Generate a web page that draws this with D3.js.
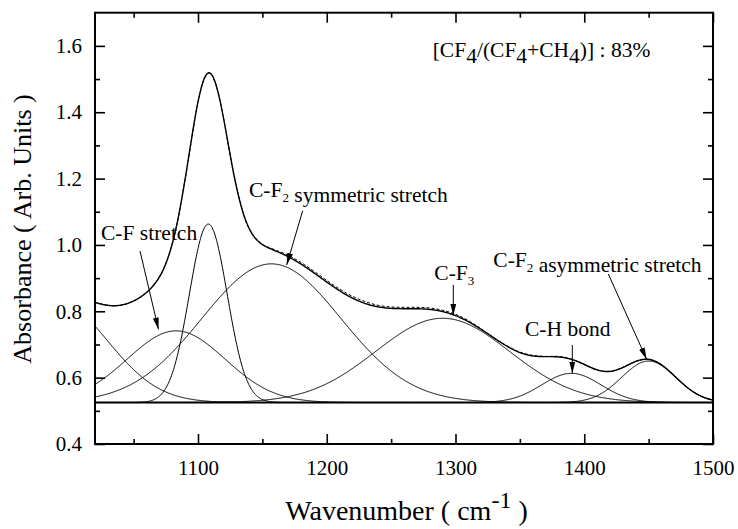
<!DOCTYPE html>
<html><head><meta charset="utf-8">
<script src="https://cdn.jsdelivr.net/npm/d3@7"></script>
<style>
body{margin:0;background:#fff}
svg{display:block}
</style>
</head><body>
<svg id="c" width="738" height="529"></svg>
<script>
// Fitted Gaussian components
const peakNames   = ["low wing", "C-F stretch", "narrow", "C-F2 symmetric stretch", "C-F3", "C-H bond", "C-F2 asymmetric stretch"];
const peakCenters = [990, 1083, 1108, 1157, 1290, 1390, 1450];
const peakHeights = [0.305, 0.216, 0.538, 0.418, 0.254, 0.088, 0.125];
const peakWidths  = [40, 38, 14.7, 54, 52, 23, 21];
const baseline = 0.525;

// Measured spectrum (dashed)
const measWavenumber = [1020,1030,1040,1050,1060,1070,1080,1090,1100,1105,1108,1110,1112,1115,1120,1130,1140,1150,1160,1170,1180,1190,1200,1210,1220,1230,1240,1250,1260,1270,1280,1290,1300,1310,1320,1330,1340,1350,1360,1370,1380,1390,1400,1410,1420,1430,1440,1450,1460,1470,1480,1490,1500];
const measAbsorbance = [0.828,0.818,0.818,0.831,0.857,0.903,1.003,1.198,1.430,1.502,1.518,1.515,1.502,1.468,1.378,1.172,1.047,1.002,0.985,0.969,0.947,0.921,0.893,0.867,0.845,0.829,0.818,0.813,0.812,0.812,0.810,0.803,0.791,0.772,0.747,0.720,0.696,0.677,0.667,0.664,0.664,0.656,0.641,0.623,0.619,0.631,0.649,0.655,0.639,0.606,0.571,0.545,0.532];

const xTicks = [1100, 1200, 1300, 1400, 1500];
const xMinorTicks = [1050, 1150, 1250, 1350, 1450];
const yTicks = [0.4, 0.6, 0.8, 1.0, 1.2, 1.4, 1.6];
const yMinorTicks = [0.5, 0.7, 0.9, 1.1, 1.3, 1.5];

const FONT = '"Liberation Serif", serif';
const L = 95, R = 713, T = 12.7, B = 444;
const svg = d3.select("#c");
const x = d3.scaleLinear().domain([1020, 1500]).range([L, R]);
const y = d3.scaleLinear().domain([0.4, 1.7]).range([B, T]);

const grid = d3.range(1020, 1500.01, 0.5);
function comp(i, w){ return baseline + peakHeights[i]*Math.exp(-Math.pow(w-peakCenters[i],2)/(2*peakWidths[i]*peakWidths[i])); }
function fit(w){ let s = baseline; for(let i=0;i<peakCenters.length;i++) s += comp(i,w)-baseline; return s; }

const defs = svg.append("defs");
defs.append("clipPath").attr("id","clip").append("rect").attr("x",L).attr("y",T).attr("width",R-L).attr("height",B-T);
defs.append("marker").attr("id","arr").attr("viewBox","0 0 12 6").attr("refX",12).attr("refY",3)
  .attr("markerWidth",12).attr("markerHeight",6).attr("markerUnits","userSpaceOnUse").attr("orient","auto")
  .append("path").attr("d","M0,0 L12,3 L0,6 Z").attr("fill","#000");

const line = d3.line().x(d=>x(d[0])).y(d=>y(d[1]));
const g = svg.append("g").attr("clip-path","url(#clip)");
peakCenters.forEach((c,i)=>{
  g.append("path").attr("d", line(grid.map(w=>[w,comp(i,w)]))).attr("fill","none").attr("stroke","#000").attr("stroke-width",1);
});
g.append("path").attr("d", line(grid.map(w=>[w,fit(w)]))).attr("fill","none").attr("stroke","#000").attr("stroke-width",1.4);
g.append("path").attr("d", d3.line().x(d=>x(d[0])).y(d=>y(d[1])).curve(d3.curveCatmullRom)(measWavenumber.map((w,i)=>[w,measAbsorbance[i]])))
  .attr("fill","none").attr("stroke","#000").attr("stroke-width",1).attr("stroke-dasharray","3,2");
g.append("line").attr("x1",x(1020)).attr("x2",x(1500)).attr("y1",y(baseline)).attr("y2",y(baseline)).attr("stroke","#000").attr("stroke-width",2);

// Axes
function styleAxis(sel){ sel.attr("font-family",null); sel.select(".domain").remove();
  sel.selectAll(".tick line").attr("stroke","#000").attr("stroke-width",1.6);
  sel.selectAll("text").style("font-family",FONT).attr("font-size",21).attr("fill","#000"); }
svg.append("g").attr("transform",`translate(0,${B})`).call(d3.axisBottom(x).tickValues(xTicks).tickSize(-10).tickPadding(16).tickFormat(d3.format("d"))).call(styleAxis);
svg.append("g").attr("transform",`translate(0,${B})`).call(d3.axisBottom(x).tickValues(xMinorTicks).tickSize(-5).tickFormat("")).call(styleAxis);
svg.append("g").attr("transform",`translate(0,${T})`).call(d3.axisTop(x).tickValues(xTicks).tickSize(-10).tickFormat("")).call(styleAxis);
svg.append("g").attr("transform",`translate(0,${T})`).call(d3.axisTop(x).tickValues(xMinorTicks).tickSize(-5).tickFormat("")).call(styleAxis);
svg.append("g").attr("transform",`translate(${L},0)`).call(d3.axisLeft(y).tickValues(yTicks).tickSize(-10).tickPadding(13).tickFormat(d3.format(".1f"))).call(styleAxis);
svg.append("g").attr("transform",`translate(${L},0)`).call(d3.axisLeft(y).tickValues(yMinorTicks).tickSize(-5).tickFormat("")).call(styleAxis);
svg.append("g").attr("transform",`translate(${R},0)`).call(d3.axisRight(y).tickValues(yTicks).tickSize(-10).tickFormat("")).call(styleAxis);
svg.append("g").attr("transform",`translate(${R},0)`).call(d3.axisRight(y).tickValues(yMinorTicks).tickSize(-5).tickFormat("")).call(styleAxis);

svg.append("rect").attr("x",L).attr("y",T).attr("width",R-L).attr("height",B-T).attr("fill","none").attr("stroke","#000").attr("stroke-width",2);

// Axis titles
const xt = svg.append("text").attr("x",406.5).attr("y",520).attr("text-anchor","middle").attr("font-size",28).style("font-family",FONT);
xt.append("tspan").text("Wavenumber ( cm");
xt.append("tspan").attr("font-size",24).attr("dy",-12).text("-1");
xt.append("tspan").attr("dy",12).text(" )");
svg.append("text").attr("transform","translate(31,229) rotate(-90)").attr("text-anchor","middle").attr("font-size",26).style("font-family",FONT).text("Absorbance ( Arb. Units )");

// Ratio text
const rt = svg.append("text").attr("x",432.7).attr("y",57.3).attr("font-size",21.5).style("font-family",FONT);
rt.append("tspan").text("[CF");
rt.append("tspan").attr("dy",6).text("4");
rt.append("tspan").attr("dy",-6).text("/(CF");
rt.append("tspan").attr("dy",6).text("4");
rt.append("tspan").attr("dy",-6).text("+CH");
rt.append("tspan").attr("dy",6).text("4");
rt.append("tspan").attr("dy",-6).text(")] : 83%");

// Annotations
function label(px, py, parts){
  const t = svg.append("text").attr("x",px).attr("y",py).attr("font-size",21.5).style("font-family",FONT);
  parts.forEach(p=>{
    if (p.sub) { t.append("tspan").attr("font-size",13).attr("dy",5).text(p.sub); t.append("tspan").attr("dy",-5).text(""); }
    else t.append("tspan").text(p.t);
  });
}
function arrow(x1,y1,x2,y2){
  svg.append("line").attr("x1",x1).attr("y1",y1).attr("x2",x2).attr("y2",y2).attr("stroke","#000").attr("stroke-width",1).attr("marker-end","url(#arr)");
}
label(101, 240, [{t:"C-F stretch"}]);
arrow(140, 251, 158.5, 329.5);
label(249, 197.3, [{t:"C-F"},{sub:"2"},{t:" symmetric stretch"}]);
arrow(302.7, 210.7, 286.7, 265);
label(434.3, 280, [{t:"C-F"},{sub:"3"}]);
arrow(453.3, 285, 453.3, 315.5);
label(525, 336, [{t:"C-H bond"}]);
arrow(572.3, 345, 572.3, 373.5);
label(493.3, 266.7, [{t:"C-F"},{sub:"2"},{t:" asymmetric stretch"}]);
arrow(608.3, 274, 646.7, 359.5);
</script>
</body></html>
